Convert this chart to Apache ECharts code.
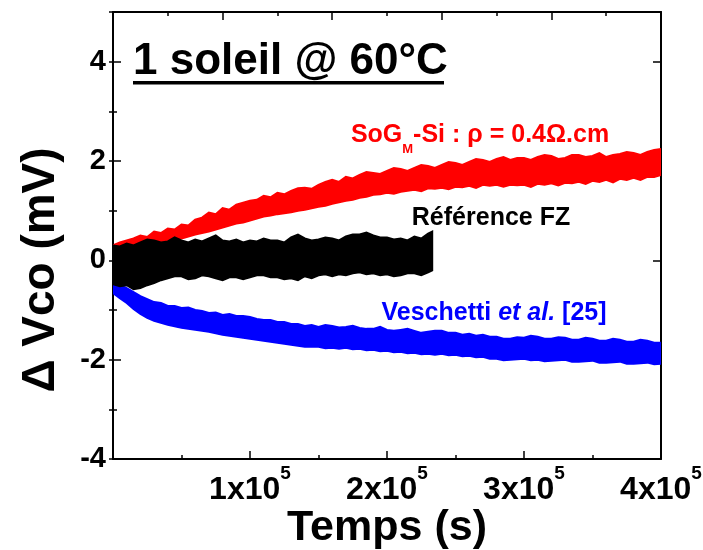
<!DOCTYPE html>
<html><head><meta charset="utf-8">
<script src="https://cdn.jsdelivr.net/npm/echarts@6/dist/echarts.min.js"></script>
<style>html,body{margin:0;padding:0;background:#fff}#c{width:703px;height:550px}</style>
</head><body><div id="c"></div>
<script>
// time values (s)
const tRB = [0,5000,10000,15000,20000,25000,30000,35000,40000,45000,50000,55000,60000,65000,70000,75000,80000,85000,90000,95000,100000,105000,110000,115000,120000,125000,130000,135000,140000,145000,150000,155000,160000,165000,170000,175000,180000,185000,190000,195000,200000,205000,210000,215000,220000,225000,230000,235000,240000,245000,250000,255000,260000,265000,270000,275000,280000,285000,290000,295000,300000,305000,310000,315000,320000,325000,330000,335000,340000,345000,350000,355000,360000,365000,370000,375000,380000,385000,390000,395000,400000];
const tK = [0,5000,10000,15000,20000,25000,30000,35000,40000,45000,50000,55000,60000,65000,70000,75000,80000,85000,90000,95000,100000,105000,110000,115000,120000,125000,130000,135000,140000,145000,150000,155000,160000,165000,170000,175000,180000,185000,190000,195000,200000,205000,210000,215000,220000,225000,230000,233000];

// SoG_M-Si (red) band: upper / lower envelope (mV)
const redHigh = [.30,.36,.40,.44,.50,.47,.58,.55,.64,.62,.72,.70,.82,.86,.96,.93,1.05,1.02,1.12,1.16,1.20,1.22,1.30,1.27,1.36,1.33,1.40,1.45,1.46,1.44,1.52,1.58,1.62,1.58,1.68,1.65,1.72,1.78,1.76,1.74,1.80,1.86,1.84,1.80,1.86,1.92,1.90,1.86,1.92,1.98,1.96,1.92,1.98,2.04,2.02,1.98,2.04,2.08,2.02,2.06,2.06,2.02,2.08,2.12,2.10,2.04,2.06,2.12,2.12,2.08,2.10,2.16,2.08,2.12,2.14,2.18,2.16,2.12,2.18,2.22,2.24];
const redLow = [.10,.14,.20,.24,.30,.32,.36,.38,.40,.42,.44,.48,.52,.55,.58,.62,.66,.70,.74,.76,.80,.84,.88,.90,.93,.95,.97,1.00,1.02,1.05,1.08,1.10,1.14,1.17,1.20,1.22,1.26,1.28,1.32,1.33,1.36,1.34,1.38,1.40,1.42,1.39,1.45,1.44,1.46,1.43,1.48,1.47,1.50,1.46,1.52,1.50,1.52,1.48,1.52,1.51,1.52,1.48,1.54,1.52,1.55,1.51,1.56,1.55,1.58,1.54,1.60,1.58,1.62,1.57,1.64,1.62,1.66,1.62,1.68,1.68,1.72];

// Veschetti et al. (blue) band
const blueHigh = [-.46,-.50,-.56,-.64,-.72,-.78,-.84,-.86,-.92,-.92,-.96,-.95,-1.00,-1.02,-1.06,-1.05,-1.10,-1.08,-1.12,-1.12,-1.14,-1.18,-1.20,-1.20,-1.24,-1.24,-1.28,-1.28,-1.32,-1.30,-1.34,-1.30,-1.32,-1.35,-1.34,-1.32,-1.36,-1.38,-1.38,-1.34,-1.40,-1.42,-1.40,-1.38,-1.42,-1.46,-1.44,-1.42,-1.42,-1.46,-1.46,-1.50,-1.48,-1.52,-1.50,-1.54,-1.54,-1.58,-1.58,-1.55,-1.56,-1.52,-1.54,-1.58,-1.58,-1.55,-1.56,-1.60,-1.60,-1.56,-1.58,-1.62,-1.62,-1.58,-1.60,-1.64,-1.64,-1.60,-1.62,-1.66,-1.66];
const blueLow = [-.66,-.76,-.86,-.98,-1.08,-1.16,-1.22,-1.26,-1.30,-1.33,-1.36,-1.38,-1.40,-1.42,-1.44,-1.47,-1.50,-1.52,-1.54,-1.56,-1.58,-1.60,-1.62,-1.64,-1.66,-1.68,-1.70,-1.72,-1.74,-1.74,-1.74,-1.77,-1.76,-1.78,-1.76,-1.79,-1.78,-1.81,-1.80,-1.83,-1.82,-1.85,-1.84,-1.87,-1.86,-1.89,-1.88,-1.90,-1.88,-1.91,-1.90,-1.93,-1.92,-1.95,-1.94,-1.98,-1.98,-2.01,-2.00,-1.99,-1.98,-2.01,-2.00,-2.03,-2.02,-2.01,-2.00,-2.04,-2.04,-2.03,-2.02,-2.06,-2.06,-2.05,-2.04,-2.08,-2.08,-2.07,-2.06,-2.09,-2.08];

// Référence FZ (black) band
const blackHigh = [.30,.28,.34,.30,.36,.42,.40,.36,.38,.46,.40,.36,.42,.38,.44,.50,.40,.38,.42,.36,.40,.38,.44,.40,.40,.36,.46,.52,.44,.40,.42,.46,.44,.40,.48,.52,.52,.56,.50,.46,.46,.42,.44,.40,.48,.44,.54,.58];
const blackLow = [-.48,-.52,-.50,-.58,-.56,-.50,-.46,-.40,-.36,-.32,-.32,-.38,-.36,-.30,-.32,-.36,-.40,-.34,-.34,-.38,-.34,-.30,-.30,-.34,-.34,-.38,-.36,-.40,-.32,-.36,-.30,-.28,-.32,-.28,-.30,-.26,-.24,-.28,-.26,-.30,-.28,-.32,-.30,-.26,-.26,-.30,-.24,-.20];

const xMajorTicks = [100000,200000,300000,400000];
const yTickLabels = [-4,-2,0,2,4];

const FONT = '"Liberation Sans", Arial, sans-serif';

function band(name, t, low, high, color) {
  return {
    type: 'custom', name: name, xAxisIndex: 0, yAxisIndex: 0,
    clip: true,
    data: [[t[0], low[0]]],
    renderItem: function (params, api) {
      const pts = [];
      for (let i = 0; i < t.length; i++) pts.push(api.coord([t[i], high[i]]));
      for (let i = t.length - 1; i >= 0; i--) pts.push(api.coord([t[i], low[i]]));
      return { type: 'polygon', shape: { points: pts }, style: { fill: color, stroke: color, lineWidth: 2, lineJoin: 'miter' } };
    }
  };
}

const chart = echarts.init(document.getElementById('c'), null, { renderer: 'canvas' });
const axisLineStyle = { color: '#000', width: 2 };
const option = {
  backgroundColor: '#fff',
  animation: false,
  grid: { left: 113, right: 42, top: 12, bottom: 91, containLabel: false, outerBoundsMode: 'none' },
  xAxis: [
    {
      type: 'value', position: 'bottom', min: 0, max: 400000, interval: 100000,
      axisLine: { show: true, onZero: false, lineStyle: axisLineStyle },
      axisTick: { show: true, inside: true, length: 8, lineStyle: { color: '#000', width: 1.5 } },
      minorTick: { show: true, splitNumber: 2, length: 4, lineStyle: { color: '#000', width: 1.5 } },
      splitLine: { show: false },
      axisLabel: {
        margin: 5,
        formatter: function (v) {
          if (xMajorTicks.indexOf(v) < 0) return '';
          return '{b|' + (v / 100000) + 'x10}{s|5}';
        },
        rich: {
          b: { fontSize: 32, fontWeight: 'bold', fontFamily: FONT, color: '#000', lineHeight: 42, verticalAlign: 'bottom' },
          s: { fontSize: 19, fontWeight: 'bold', fontFamily: FONT, color: '#000', lineHeight: 19, verticalAlign: 'top' }
        }
      },
      name: 'Temps (s)', nameLocation: 'middle', nameGap: 48, nameMoveOverlap: false,
      nameTextStyle: { fontSize: 43, fontWeight: 'bold', fontFamily: FONT, color: '#000' }
    },
    {
      type: 'value', position: 'top', min: 0, max: 400000, interval: 80000,
      axisLine: { show: true, onZero: false, lineStyle: axisLineStyle },
      axisTick: { show: true, inside: true, length: 8, lineStyle: { color: '#000', width: 1.5 } },
      minorTick: { show: true, splitNumber: 2, length: 4, lineStyle: { color: '#000', width: 1.5 } },
      splitLine: { show: false }, axisLabel: { show: false }
    }
  ],
  yAxis: [
    {
      type: 'value', position: 'left', min: -4, max: 5, interval: 2,
      axisLine: { show: true, onZero: false, lineStyle: axisLineStyle },
      axisTick: { show: true, inside: true, length: 8, lineStyle: { color: '#000', width: 1.5 } },
      splitLine: { show: false },
      axisLabel: {
        margin: 7, fontSize: 29, fontWeight: 'bold', fontFamily: FONT, color: '#000',
        formatter: function (v) { return yTickLabels.indexOf(v) >= 0 ? String(v) : ''; }
      }
    },
    {
      type: 'value', position: 'right', min: -4, max: 5, interval: 2,
      axisLine: { show: true, onZero: false, lineStyle: axisLineStyle },
      axisTick: { show: true, inside: true, length: 8, lineStyle: { color: '#000', width: 1.5 } },
      splitLine: { show: false }, axisLabel: { show: false }
    },
    {
      type: 'value', position: 'left', min: -4, max: 5, interval: 1,
      axisLine: { show: false },
      axisTick: { show: true, inside: true, length: 4, lineStyle: { color: '#000', width: 1.5 } },
      splitLine: { show: false }, axisLabel: { show: false }
    },
    {
      type: 'value', position: 'right', min: -4, max: 5, interval: 1,
      axisLine: { show: false },
      axisTick: { show: true, inside: true, length: 4, lineStyle: { color: '#000', width: 1.5 } },
      splitLine: { show: false }, axisLabel: { show: false }
    }
  ],
  series: [
    band('SoG', tRB, redLow, redHigh, '#ff0000'),
    band('Veschetti', tRB, blueLow, blueHigh, '#0000ff'),
    band('FZ', tK, blackLow, blackHigh, '#000000')
  ],
  graphic: [
    { type: 'text', x: 133, y: 62, style: { text: '1 soleil @ 60°C', fontSize: 44, fontWeight: 'bold', fontFamily: FONT, fill: '#000', align: 'left', verticalAlign: 'middle' } },
    { type: 'rect', shape: { x: 133, y: 81, width: 311, height: 3.5 }, style: { fill: '#000' } },
    { type: 'text', x: 41, y: 270, rotation: Math.PI / 2, style: { text: 'Δ Vco (mV)', fontSize: 46, fontWeight: 'bold', fontFamily: FONT, fill: '#000', align: 'center', verticalAlign: 'middle' } },
    { type: 'text', x: 480, y: 123, style: {
        text: '{n|SoG}{sub|M}{n|-Si : ρ = 0.4Ω.cm}', align: 'center', verticalAlign: 'top',
        rich: {
          n: { fontSize: 25, fontWeight: 'bold', fontFamily: FONT, fill: '#ff0000', lineHeight: 30, verticalAlign: 'top' },
          sub: { fontSize: 13, fontWeight: 'bold', fontFamily: FONT, fill: '#ff0000', lineHeight: 13, padding: [20, 0, 0, 0], verticalAlign: 'top' }
        } } },
    { type: 'text', x: 491, y: 218, style: { text: 'Référence FZ', fontSize: 25, fontWeight: 'bold', fontFamily: FONT, fill: '#000', align: 'center', verticalAlign: 'middle' } },
    { type: 'text', x: 494, y: 313, style: {
        text: '{n|Veschetti }{i|et al.}{n| [25]}', align: 'center', verticalAlign: 'middle',
        rich: {
          n: { fontSize: 25, fontWeight: 'bold', fontFamily: FONT, fill: '#0000ff' },
          i: { fontSize: 25, fontWeight: 'bold', fontStyle: 'italic', fontFamily: FONT, fill: '#0000ff' }
        } } }
  ]
};
chart.setOption(option);
</script>
</body></html>
